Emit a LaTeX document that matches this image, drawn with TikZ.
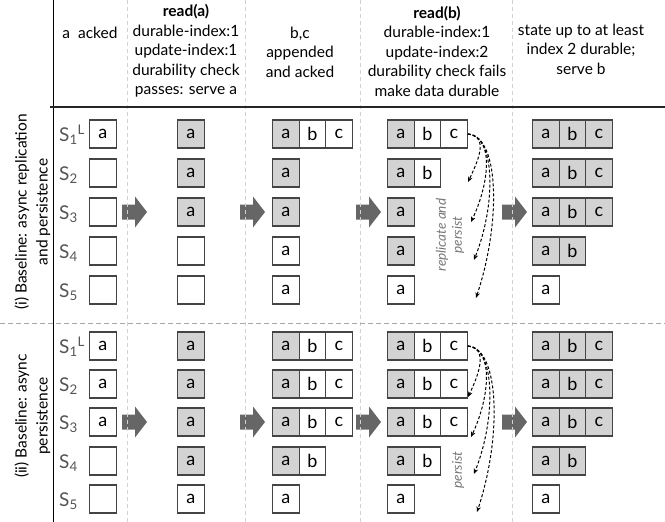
\documentclass[tikz,border=0pt]{standalone}
\usepackage{fontspec}
\setmainfont{Lato}
\usetikzlibrary{arrows.meta}
\definecolor{durgray}{HTML}{D3D3D3}
\definecolor{cellline}{HTML}{444444}
\definecolor{arrowgray}{HTML}{666666}
\definecolor{sepgray}{HTML}{D2D2D2}
\definecolor{hsepgray}{HTML}{A8A8A8}
\definecolor{labgray}{HTML}{555555}
\definecolor{notegray}{HTML}{777777}
\newcommand\logrow[4]{%
  \foreach \t/\l [count=\k] in {#4} {
    \node[\t] (#1-\k) at ({#2+(\k-1)*26.5}, #3) {\l};
  }}
\tikzset{
  cellbase/.style={draw=cellline, line width=1.3pt, minimum width=26.5pt, minimum height=28pt,
    inner sep=0pt, anchor=west, font=\fontsize{18}{20}\selectfont},
  wcell/.style={cellbase, fill=white},
  gcell/.style={cellbase, fill=durgray},
  hdr/.style={align=center, inner sep=0pt, font=\fontsize{15.5}{19.5}\selectfont},
  side/.style={align=center, inner sep=0pt, rotate=90, font=\fontsize{15.5}{21}\selectfont},
  slab/.style={anchor=base west, inner sep=0pt, text=labgray, font=\fontsize{19}{21}\selectfont},
  note/.style={align=center, inner sep=0pt, rotate=90, text=notegray, font=\itshape\fontsize{13.5}{16}\selectfont},
  blockarrow/.pic={\fill[arrowgray] (0,-7.5) -- (13,-7.5) -- (13,-15.5) -- (25,0) -- (13,15.5) -- (13,7.5) -- (0,7.5) -- cycle;},
  vsep/.style={draw=sepgray, line width=0.9pt, dash pattern=on 4pt off 3pt},
  hsep/.style={draw=hsepgray, line width=1pt, dash pattern=on 5pt off 3pt},
  persistarrow/.style={draw=black, line width=1pt, dash pattern=on 3pt off 2pt,
    -{Stealth[length=5.5pt,width=4.5pt]}},
}
\begin{document}
\begin{tikzpicture}[x=1pt,y=-1pt]
\useasboundingbox (0,0) rectangle (665,522);
% headers
\node[hdr] (h1) at (90,33) {a\ \ acked};
\node[hdr] (h2) at (186,51) {\textbf{read(a)}\\durable-index:1\\update-index:1\\durability check\\passes: serve a};
\node[hdr] (h3) at (300,52) {b,c\\appended\\and acked};
\node[hdr] (h4) at (437,51) {\textbf{read(b)}\\durable-index:1\\update-index:2\\durability check fails\\make data durable};
\node[hdr] (h5) at (581,49) {state up to at least\\index 2 durable;\\serve b};
% side labels
\node[side] (lab1) at (32.5,212) {(i) Baseline: async replication\\and persistence};
\node[side] (lab2) at (32.5,416) {(ii) Baseline: async\\persistence};
% server labels
\foreach \s/\y in {1/134,2/173,3/212,4/251,5/290} {
  \ifnum\s=1
    \node[slab] (si-\s) at (59,{\y+7}) {S\textsubscript{1}\textsuperscript{L}};
  \else
    \node[slab] (si-\s) at (59,{\y+7}) {S\textsubscript{\s}};
  \fi
}
\foreach \s/\y in {1/346,2/384,3/422,4/461,5/499} {
  \ifnum\s=1
    \node[slab] (sii-\s) at (59,{\y+7}) {S\textsubscript{1}\textsuperscript{L}};
  \else
    \node[slab] (sii-\s) at (59,{\y+7}) {S\textsubscript{\s}};
  \fi
}
% ---------- section (i)
\logrow{i1-1}{89}{134}{wcell/a}
\logrow{i1-2}{89}{173}{wcell/{}}
\logrow{i1-3}{89}{212}{wcell/{}}
\logrow{i1-4}{89}{251}{wcell/{}}
\logrow{i1-5}{89}{290}{wcell/{}}
\logrow{i2-1}{177}{134}{gcell/a}
\logrow{i2-2}{177}{173}{gcell/a}
\logrow{i2-3}{177}{212}{gcell/a}
\logrow{i2-4}{177}{251}{wcell/{}}
\logrow{i2-5}{177}{290}{wcell/{}}
\logrow{i3-1}{272}{134}{gcell/a,wcell/b,wcell/c}
\logrow{i3-2}{272}{173}{gcell/a}
\logrow{i3-3}{272}{212}{gcell/a}
\logrow{i3-4}{272}{251}{wcell/a}
\logrow{i3-5}{272}{290}{wcell/a}
\logrow{i4-1}{387}{134}{gcell/a,wcell/b,wcell/c}
\logrow{i4-2}{387}{173}{gcell/a,wcell/b}
\logrow{i4-3}{387}{212}{gcell/a}
\logrow{i4-4}{387}{251}{gcell/a}
\logrow{i4-5}{387}{290}{wcell/a}
\logrow{i5-1}{532}{134}{gcell/a,gcell/b,gcell/c}
\logrow{i5-2}{532}{173}{gcell/a,gcell/b,gcell/c}
\logrow{i5-3}{532}{212}{gcell/a,gcell/b,gcell/c}
\logrow{i5-4}{532}{251}{gcell/a,gcell/b}
\logrow{i5-5}{532}{290}{wcell/a}
% ---------- section (ii)
\logrow{ii1-1}{89}{346}{wcell/a}
\logrow{ii1-2}{89}{384}{wcell/a}
\logrow{ii1-3}{89}{422}{wcell/a}
\logrow{ii1-4}{89}{461}{wcell/{}}
\logrow{ii1-5}{89}{499}{wcell/{}}
\logrow{ii2-1}{177}{346}{gcell/a}
\logrow{ii2-2}{177}{384}{gcell/a}
\logrow{ii2-3}{177}{422}{gcell/a}
\logrow{ii2-4}{177}{461}{gcell/a}
\logrow{ii2-5}{177}{499}{wcell/a}
\logrow{ii3-1}{272}{346}{gcell/a,wcell/b,wcell/c}
\logrow{ii3-2}{272}{384}{gcell/a,wcell/b,wcell/c}
\logrow{ii3-3}{272}{422}{gcell/a,wcell/b,wcell/c}
\logrow{ii3-4}{272}{461}{gcell/a,wcell/b}
\logrow{ii3-5}{272}{499}{wcell/a}
\logrow{ii4-1}{387}{346}{gcell/a,wcell/b,wcell/c}
\logrow{ii4-2}{387}{384}{gcell/a,wcell/b,wcell/c}
\logrow{ii4-3}{387}{422}{gcell/a,wcell/b,wcell/c}
\logrow{ii4-4}{387}{461}{gcell/a,wcell/b}
\logrow{ii4-5}{387}{499}{wcell/a}
\logrow{ii5-1}{532}{346}{gcell/a,gcell/b,gcell/c}
\logrow{ii5-2}{532}{384}{gcell/a,gcell/b,gcell/c}
\logrow{ii5-3}{532}{422}{gcell/a,gcell/b,gcell/c}
\logrow{ii5-4}{532}{461}{gcell/a,gcell/b}
\logrow{ii5-5}{532}{499}{wcell/a}
% block arrows
\foreach \x in {122,240,356,502} {
  \pic at (\x,212) {blockarrow};
  \pic at (\x,422) {blockarrow};
}
% persist arrows, section (i)
\coordinate (ie1) at (468,182);
\coordinate (ie2) at (471,222);
\coordinate (ie3) at (474,260);
\coordinate (ie4) at (476,298);
\draw[persistarrow] (i4-1-3.east) .. controls +(20,2) and +(12,-25) .. (ie1);
\draw[persistarrow] (i4-1-3.east) .. controls +(26,2) and +(19,-40) .. (ie2);
\draw[persistarrow] (i4-1-3.east) .. controls +(28,2) and +(22,-55) .. (ie3);
\draw[persistarrow] (i4-1-3.east) .. controls +(32,2) and +(25,-75) .. (ie4);
\node[note] (rep) at (450,235) {replicate and\\persist};
% persist arrows, section (ii)
\coordinate (iie1) at (468,397);
\coordinate (iie2) at (471,437);
\coordinate (iie3) at (474,474);
\coordinate (iie4) at (477,512);
\draw[persistarrow] (ii4-1-3.east) .. controls +(20,2) and +(12,-25) .. (iie1);
\draw[persistarrow] (ii4-1-3.east) .. controls +(26,2) and +(19,-40) .. (iie2);
\draw[persistarrow] (ii4-1-3.east) .. controls +(28,2) and +(22,-55) .. (iie3);
\draw[persistarrow] (ii4-1-3.east) .. controls +(32,2) and +(25,-75) .. (iie4);
\node[note] (per) at (458,470) {persist};
% separators
\foreach \x in {127,245,360,512} { \draw[vsep] (\x,0) -- (\x,522); }
\draw[hsep] (0,323) -- (665,323);
\draw[line width=0.9pt, black] (53,0) -- (53,522);
\draw[line width=1.3pt, black!85] (50,107) -- (665,107);
\end{tikzpicture}
\end{document}
